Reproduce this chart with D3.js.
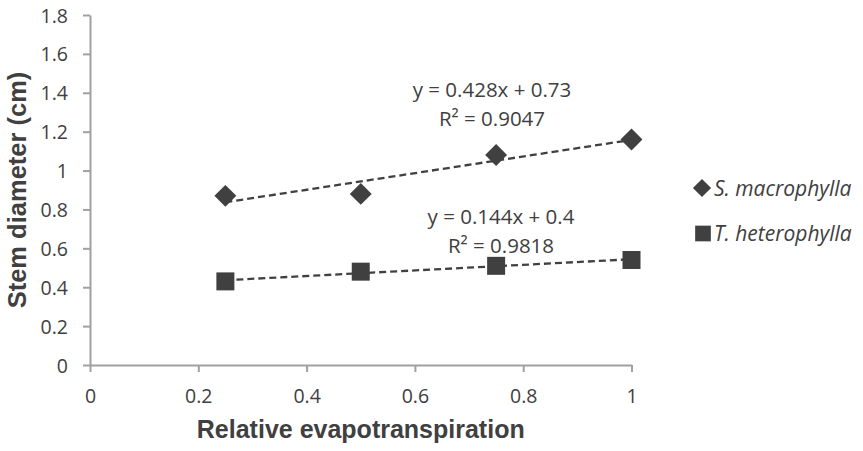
<!DOCTYPE html>
<html>
<head>
<meta charset="utf-8">
<script src="https://cdn.jsdelivr.net/npm/d3@7"></script>
<style>
  html, body { margin: 0; padding: 0; background: #fff; }
  svg { display: block; }
</style>
</head>
<body>
<svg id="chart" width="863" height="451"></svg>
<script>
// ---- data ----
const xValues = [0.25, 0.5, 0.75, 1];
const sMacrophylla = [0.87, 0.88, 1.08, 1.16];
const tHeterophylla = [0.43, 0.48, 0.51, 0.54];
const seriesNames = ["S. macrophylla", "T. heterophylla"];
const trendSlopes = [0.428, 0.144];
const trendIntercepts = [0.73, 0.4];
const equationLabels = [["y = 0.428x + 0.73", "R\u00B2 = 0.9047"], ["y = 0.144x + 0.4", "R\u00B2 = 0.9818"]];
const xTickValues = [0, 0.2, 0.4, 0.6, 0.8, 1];
const xTickLabels = ["0", "0.2", "0.4", "0.6", "0.8", "1"];
const yTickValues = [0, 0.2, 0.4, 0.6, 0.8, 1, 1.2, 1.4, 1.6, 1.8];
const yTickLabels = ["0", "0.2", "0.4", "0.6", "0.8", "1", "1.2", "1.4", "1.6", "1.8"];
const xTitle = "Relative evapotranspiration";
const yTitle = "Stem diameter (cm)";

// ---- layout ----
const svg = d3.select("#chart");
const dark = "#404040";
const axisColor = "#a0a0a0";
const tickFont = "'Open Sans', 'Noto Sans', sans-serif";
const x = d3.scaleLinear().domain([0, 1]).range([90, 631.5]);
const y = d3.scaleLinear().domain([0, 1.8]).range([365, 15]);

// axes
const xAxis = d3.axisBottom(x).tickValues(xTickValues)
  .tickFormat((d, i) => xTickLabels[i]).tickSize(7).tickSizeOuter(0);
const gx = svg.append("g").attr("transform", `translate(0,${y(0)})`).call(xAxis);
gx.select(".domain").attr("stroke", axisColor).attr("stroke-width", 2);
gx.selectAll(".tick line").attr("stroke", axisColor).attr("stroke-width", 2);
gx.selectAll(".tick text").attr("y", 38).attr("dy", 0)
  .attr("fill", dark).style("font-family", tickFont).style("font-size", "19.5px");

const yAxis = d3.axisLeft(y).tickValues(yTickValues)
  .tickFormat((d, i) => yTickLabels[i]).tickSize(7).tickSizeOuter(0).tickPadding(15);
const gy = svg.append("g").attr("transform", `translate(${x(0)},0)`).call(yAxis);
gy.select(".domain").attr("stroke", axisColor).attr("stroke-width", 2);
gy.selectAll(".tick line").attr("stroke", axisColor).attr("stroke-width", 2);
gy.selectAll(".tick text").attr("dy", "0.36em")
  .attr("fill", dark).style("font-family", tickFont).style("font-size", "19.5px");

// axis titles
svg.append("text").attr("x", (x(0) + x(1)) / 2).attr("y", 438)
  .attr("text-anchor", "middle").attr("fill", dark)
  .style("font-family", "'Liberation Sans', Arial, sans-serif").style("font-weight", "bold")
  .style("font-size", "25px").text(xTitle);
svg.append("text").attr("transform", `translate(26,${(y(0) + y(1.8)) / 2}) rotate(-90)`)
  .attr("text-anchor", "middle").attr("fill", dark)
  .style("font-family", "'Liberation Sans', Arial, sans-serif").style("font-weight", "bold")
  .style("font-size", "25.5px").text(yTitle);

// trendlines
const line = d3.line().x(d => x(d[0])).y(d => y(d[1]));
[0, 1].forEach(i => {
  const ends = [d3.min(xValues), d3.max(xValues)];
  const pts = ends.map(v => [v, trendSlopes[i] * v + trendIntercepts[i]]);
  svg.append("path").attr("d", line(pts)).attr("fill", "none")
    .attr("stroke", dark).attr("stroke-width", 2.3).attr("stroke-dasharray", "7,4");
});

// markers
const diamond = d3.symbol().type(d3.symbolSquare).size(240);
svg.append("g").selectAll("path").data(xValues.map((v, i) => [v, sMacrophylla[i]]))
  .join("path").attr("d", diamond)
  .attr("transform", d => `translate(${x(d[0])},${y(d[1])}) rotate(45)`)
  .attr("fill", dark);
const square = d3.symbol().type(d3.symbolSquare).size(324);
svg.append("g").selectAll("path").data(xValues.map((v, i) => [v, tHeterophylla[i]]))
  .join("path").attr("d", square)
  .attr("transform", d => `translate(${x(d[0])},${y(d[1])})`)
  .attr("fill", dark);

// equation labels
const eqPos = [[492, 97], [501, 224]];
equationLabels.forEach((lines, i) => {
  lines.forEach((t, j) => {
    svg.append("text").attr("x", eqPos[i][0]).attr("y", eqPos[i][1] + j * 28.5)
      .attr("text-anchor", "middle").attr("fill", dark)
      .style("font-family", tickFont).style("font-size", "20.5px").text(t);
  });
});

// legend
const legend = svg.append("g");
const legY = [188, 233.5];
legend.append("path").attr("d", d3.symbol().type(d3.symbolSquare).size(165))
  .attr("transform", `translate(702,${legY[0]}) rotate(45)`).attr("fill", dark);
legend.append("path").attr("d", d3.symbol().type(d3.symbolSquare).size(246))
  .attr("transform", `translate(703,${legY[1]})`).attr("fill", dark);
seriesNames.forEach((name, i) => {
  legend.append("text").attr("x", 714).attr("y", legY[i]).attr("dy", "0.36em")
    .attr("fill", dark).style("font-family", tickFont).style("font-style", "italic")
    .style("font-size", "21px").text(name);
});
</script>
</body>
</html>
